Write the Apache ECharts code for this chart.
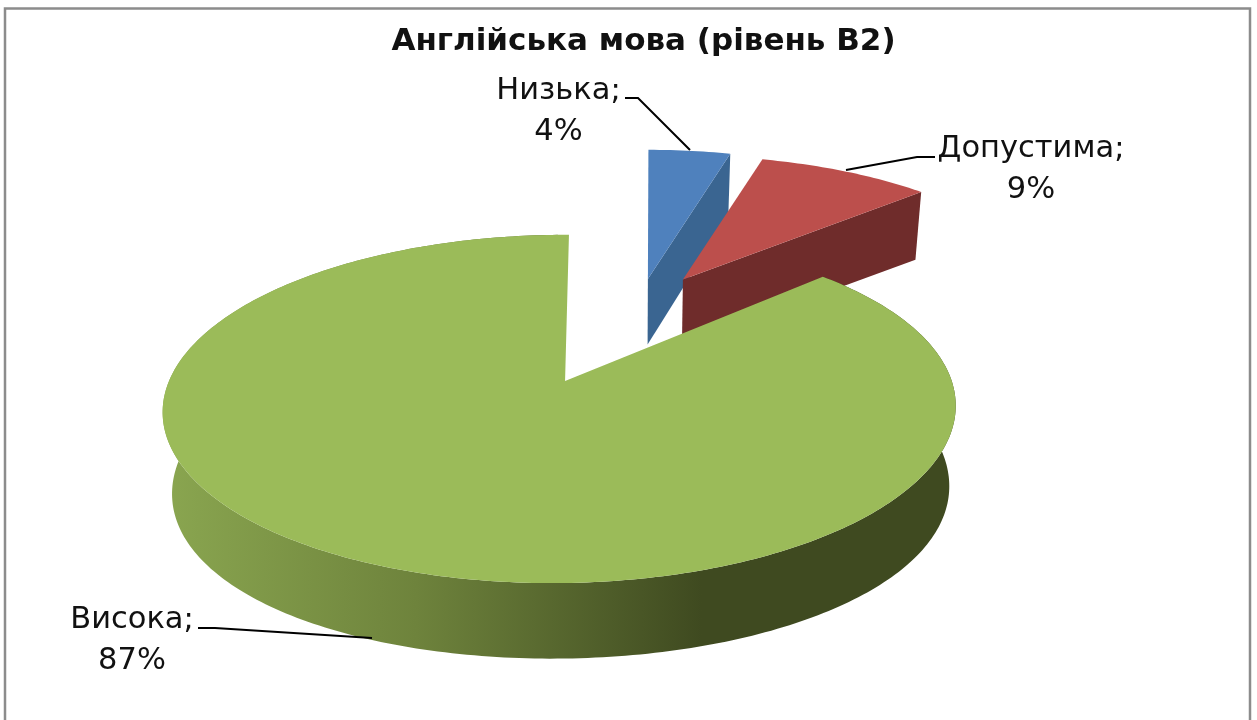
<!DOCTYPE html>
<html><head><meta charset="utf-8">
<script src="https://cdn.jsdelivr.net/npm/echarts@6/dist/echarts.min.js"></script>
<style>html,body{margin:0;background:#fff}#c{width:1257px;height:720px}</style></head>
<body><div id="c"></div>
<script>
const titleText = 'Англійська мова (рівень B2)';
const categories = ['Низька', 'Допустима', 'Висока'];
const percents = [4, 9, 87];

// 3D styling of each slice (not data)
const explode = [0.235, 0.287, 0.44];
const spread = [1.08, 1.03, 1];
const drift = [[0.012, 0.03], [-0.005, 0.012], [0, 0]];
const lean = [3, 9, -6];
const topColors = ['#4f81bd', '#bc4f4c', '#9bbb59'];
const wallColors = ['#3a6591', '#6f2c2b', null];
const labelAnchors = [[558.5, 91], [1031, 149], [132, 620]];
const leaders = [
  [[625, 98], [638, 98], [690, 150]],
  [[846, 170], [917, 157], [935, 157]],
  [[198, 628], [215, 628], [372, 638]]
];
const cam = { cx: 633.3, cy: 316.7, a: 366, b: 149.4, k: 0.15, j: 0.012, depth: 67, conv: 0.02, sideDepth: 0.16 };
const FONT = '"DejaVu Sans"';

function project(u, v, shift, side) {
  const den = 1 + cam.k * v + cam.j * u;
  return { x: cam.cx + (cam.a * u + (shift || 0)) / den, y: cam.cy - cam.b * v / den, den, side: side || 0 };
}
function upperPt(p) { return [p.x, p.y]; }
function lowerPt(p) {
  const d = cam.depth * (1 + cam.sideDepth * p.side * p.side) / Math.sqrt(p.den);
  return [p.x + (cam.cx - p.x) * cam.conv, p.y + d];
}
const total = percents.reduce((s, v) => s + v, 0);

function renderSlice(params, api) {
  const i = api.value(0);
  let before = 0;
  for (let n = 0; n < i; n++) before += percents[n];
  const t0 = before / total * 2 * Math.PI;
  const t1 = (before + api.value(1)) / total * 2 * Math.PI;
  const mid = (t0 + t1) / 2;
  const ou = explode[i] * Math.sin(mid) + drift[i][0];
  const ov = explode[i] * Math.cos(mid) + drift[i][1];
  const rim = [];
  const steps = Math.max(6, Math.round((t1 - t0) * 60));
  for (let s = 0; s <= steps; s++) {
    const t = t0 + (t1 - t0) * s / steps;
    rim.push(project(ou + spread[i] * Math.sin(t), ov + spread[i] * Math.cos(t), lean[i] * Math.cos(t), Math.sin(t)));
  }
  const apex = project(ou, ov, 0, 0);
  const children = [];
  if (wallColors[i]) {
    const e = rim[rim.length - 1];
    children.push({ type: 'polygon', shape: { points: [upperPt(apex), upperPt(e), lowerPt(e), lowerPt(apex)] },
      style: { fill: wallColors[i] } });
  } else {
    const band = rim.slice(0, -2);
    const pts = band.map(upperPt).concat(band.slice().reverse().map(lowerPt));
    children.push({ type: 'polygon', shape: { points: pts }, style: {
      fill: new echarts.graphic.LinearGradient(0, 0, 1, 0, [
        { offset: 0, color: '#8aa650' }, { offset: 0.32, color: '#6e833c' },
        { offset: 0.68, color: '#3f4a20' }, { offset: 1, color: '#3f4a20' }
      ]) } });
  }
  children.push({ type: 'polygon', shape: { points: [upperPt(apex)].concat(rim.map(upperPt)) },
    style: { fill: topColors[i] } });
  children.push({ type: 'polyline', shape: { points: leaders[i] },
    style: { stroke: '#000', lineWidth: 2, fill: null } });
  children.push({ type: 'text', style: {
    text: categories[i] + ';\n' + api.value(1) + '%',
    x: labelAnchors[i][0], y: labelAnchors[i][1] - 20,
    align: 'center', textAlign: 'center', verticalAlign: 'top',
    font: '30.5px ' + FONT, lineHeight: 41, fill: '#111' } });
  return { type: 'group', children };
}

const chart = echarts.init(document.getElementById('c'), null, { renderer: 'canvas' });
chart.setOption({
  animation: false,
  backgroundColor: '#fff',
  title: { text: titleText, left: 638.5, top: 21, textAlign: 'center',
    textStyle: { fontFamily: FONT, fontWeight: 'bold', fontSize: 31, color: '#111' } },
  graphic: [{ type: 'polyline', silent: true,
    shape: { points: [[5, 720], [5, 8.5], [1250, 8.5], [1250, 720]] },
    style: { stroke: '#8c8c8c', lineWidth: 2.5, fill: null } }],
  series: [{ type: 'custom', coordinateSystem: 'none', renderItem: renderSlice,
    data: percents.map((v, i) => [i, v, categories[i]]), silent: true }]
});
</script></body></html>
